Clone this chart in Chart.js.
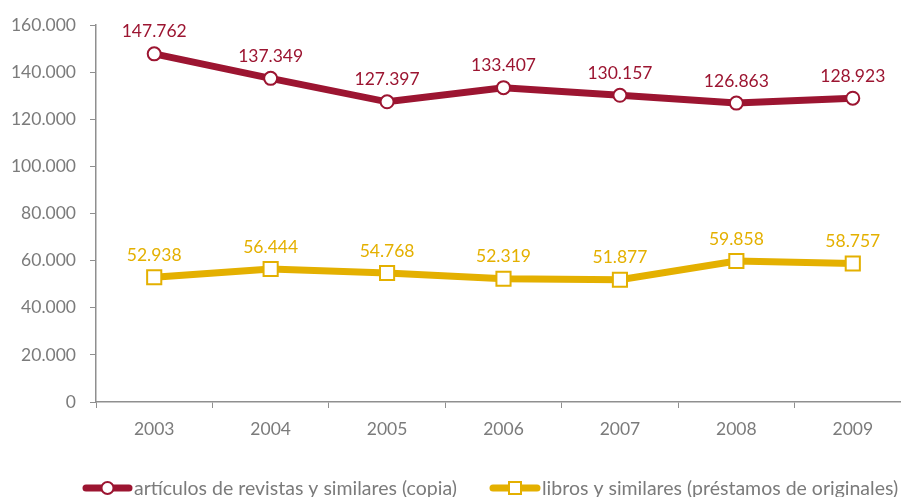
<!DOCTYPE html>
<html>
<head>
<meta charset="utf-8">
<script src="https://cdn.jsdelivr.net/npm/chart.js@4/dist/chart.umd.min.js"></script>
<style>
html,body{margin:0;padding:0;background:#fff;overflow:hidden;width:901px;height:497px;}
#wrap{width:923px;height:497px;}
</style>
</head>
<body>
<div id="wrap"><canvas id="c" width="923" height="497"></canvas></div>
<script>
const years = ['2003','2004','2005','2006','2007','2008','2009'];
const articulos = [147762, 137349, 127397, 133407, 130157, 126863, 128923];
const libros = [52938, 56444, 54768, 52319, 51877, 59858, 58757];
const seriesNames = ['artículos de revistas y similares (copia)', 'libros y similares (préstamos de originales)'];
const yTicks = [0, 20000, 40000, 60000, 80000, 100000, 120000, 140000, 160000];

const RED = '#9c1531';
const YEL = '#e4b000';
const GREY = '#7b7b7b';
const AXIS = '#8f8f8f';
const FONT = 'Lato, "Open Sans", sans-serif';

function fmt(v){
  return String(Math.round(v)).replace(/\B(?=(\d{3})+(?!\d))/g, '.');
}

const labelPlugin = {
  id: 'valueLabels',
  afterDatasetsDraw(chart){
    const ctx = chart.ctx;
    ctx.save();
    ctx.font = '17.5px ' + FONT;
    ctx.textAlign = 'center';
    ctx.textBaseline = 'middle';
    chart.data.datasets.forEach((ds, i) => {
      const meta = chart.getDatasetMeta(i);
      ctx.fillStyle = ds.borderColor;
      meta.data.forEach((pt, j) => {
        ctx.fillText(fmt(ds.data[j]), pt.x, pt.y - 22);
      });
    });
    ctx.restore();
  }
};

const legendPlugin = {
  id: 'customLegend',
  afterDraw(chart){
    const ctx = chart.ctx;
    const y = 488;
    const items = [{x0:83, x1:132}, {x0:490, x1:540}];
    ctx.save();
    chart.data.datasets.forEach((ds, i) => {
      const it = items[i];
      ctx.strokeStyle = ds.borderColor;
      ctx.lineWidth = 7;
      ctx.lineCap = 'round';
      ctx.beginPath();
      ctx.moveTo(it.x0 + 3, y);
      ctx.lineTo(it.x1 - 3, y);
      ctx.stroke();
      const cx = (it.x0 + it.x1) / 2;
      ctx.fillStyle = '#fff';
      ctx.lineWidth = 2;
      if (ds.pointStyle === 'circle') {
        ctx.beginPath();
        ctx.arc(cx, y, 6, 0, Math.PI * 2);
        ctx.fill();
        ctx.stroke();
      } else {
        ctx.fillRect(cx - 6, y - 6, 12, 12);
        ctx.strokeRect(cx - 6, y - 6, 12, 12);
      }
      ctx.font = '19.5px ' + FONT;
      ctx.fillStyle = GREY;
      ctx.textAlign = 'left';
      ctx.textBaseline = 'alphabetic';
      ctx.fillText(ds.label, it.x1 + 2, 495);
    });
    ctx.restore();
  }
};

new Chart(document.getElementById('c'), {
  type: 'line',
  data: {
    labels: years,
    datasets: [
      {
        label: seriesNames[0],
        data: articulos,
        borderColor: RED,
        backgroundColor: '#fff',
        borderWidth: 7,
        pointStyle: 'circle',
        pointRadius: 6.5,
        pointBorderWidth: 2,
        pointBackgroundColor: '#fff',
        pointBorderColor: RED,
        tension: 0
      },
      {
        label: seriesNames[1],
        data: libros,
        borderColor: YEL,
        backgroundColor: '#fff',
        borderWidth: 7,
        pointStyle: 'rect',
        pointRadius: 10,
        pointBorderWidth: 2,
        pointBackgroundColor: '#fff',
        pointBorderColor: YEL,
        tension: 0
      }
    ]
  },
  options: {
    responsive: false,
    animation: false,
    events: [],
    layout: { padding: { top: 25, left: 0, right: 0, bottom: 0 } },
    plugins: { legend: { display: false }, tooltip: { enabled: false } },
    scales: {
      x: {
        offset: true,
        grid: { display: true, offset: true, drawOnChartArea: false, tickLength: 6, color: AXIS, tickColor: AXIS },
        border: { display: true, color: AXIS, width: 1.5 },
        ticks: { color: GREY, font: { family: FONT, size: 17.5 }, padding: 11 },
        afterFit(s){ s.height = 95; }
      },
      y: {
        min: 0,
        max: 160000,
        afterBuildTicks(s){ s.ticks = yTicks.map(v => ({ value: v })); },
        grid: { display: true, drawOnChartArea: false, tickLength: 6, color: AXIS, tickColor: AXIS },
        border: { display: true, color: AXIS, width: 1.5 },
        ticks: { color: GREY, font: { family: FONT, size: 17.5 }, padding: 14, callback: v => fmt(v) },
        afterFit(s){ s.width = 96; }
      }
    }
  },
  plugins: [labelPlugin, legendPlugin]
});
</script>
</body>
</html>
